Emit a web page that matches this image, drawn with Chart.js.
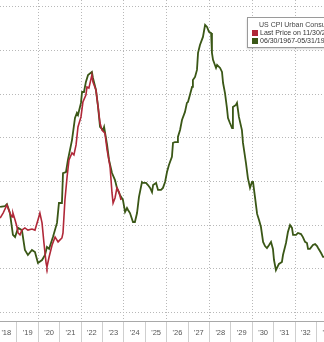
<!DOCTYPE html>
<html>
<head>
<meta charset="utf-8">
<script src="https://cdn.jsdelivr.net/npm/chart.js@4"></script>
<style>
  html, body { margin: 0; padding: 0; background: #fff; }
  #wrap { width: 324px; height: 342px; }
</style>
</head>
<body>
<div id="wrap"><canvas id="myChart"></canvas></div>
<script>
// US CPI YoY (red) vs the 1967-83 path laid over it (green), x in decimal years
const cpiDates = [2018.21, 2018.35, 2018.53, 2018.67, 2018.77, 2018.81, 2018.91, 2019.00, 2019.05, 2019.14,
  2019.23, 2019.37, 2019.51, 2019.70, 2019.84, 2019.98, 2020.07, 2020.17, 2020.26, 2020.36,
  2020.40, 2020.50, 2020.64, 2020.78, 2020.92, 2021.01, 2021.10, 2021.15, 2021.24, 2021.34,
  2021.43, 2021.57, 2021.66, 2021.76, 2021.85, 2021.99, 2022.08, 2022.22, 2022.27, 2022.36,
  2022.50, 2022.55, 2022.69, 2022.79, 2022.88, 2022.97, 2023.11, 2023.21, 2023.35, 2023.44,
  2023.49, 2023.58, 2023.67, 2023.77, 2023.86];
const cpiValues = [2.33, 2.56, 2.93, 2.56, 2.38, 2.56, 2.24, 1.92, 1.65, 1.56,
  1.78, 1.88, 1.78, 1.83, 1.78, 2.24, 2.56, 2.11, 1.19, 0.27,
  0.09, 0.55, 1.10, 1.46, 1.24, 1.33, 1.42, 1.65, 3.16, 4.21,
  4.99, 5.31, 5.22, 5.68, 6.50, 6.96, 7.64, 7.96, 8.33, 8.28,
  8.88, 8.56, 8.19, 7.41, 6.68, 6.36, 6.22, 5.45, 4.67, 3.48,
  3.02, 3.25, 3.71, 3.52, 3.16];

const overlayDates = [2018.21, 2018.44, 2018.53, 2018.67, 2018.81, 2018.91, 2019.05, 2019.23, 2019.37, 2019.51,
  2019.70, 2019.84, 2019.98, 2020.17, 2020.31, 2020.40, 2020.50, 2020.68, 2020.87, 2020.96,
  2021.10, 2021.15, 2021.29, 2021.38, 2021.57, 2021.71, 2021.80, 2021.85, 2021.99, 2022.04,
  2022.13, 2022.22, 2022.32, 2022.50, 2022.55, 2022.69, 2022.79, 2022.88, 2023.02, 2023.07,
  2023.21, 2023.30, 2023.44, 2023.58, 2023.67, 2023.81, 2023.95, 2024.05, 2024.14, 2024.19,
  2024.28, 2024.42, 2024.51, 2024.61, 2024.70, 2024.84, 2024.89, 2025.03, 2025.12, 2025.22,
  2025.31, 2025.36, 2025.50, 2025.59, 2025.73, 2025.82, 2025.92, 2026.01, 2026.10, 2026.24,
  2026.29, 2026.38, 2026.48, 2026.52, 2026.62, 2026.71, 2026.85, 2026.94, 2026.99, 2027.08,
  2027.18, 2027.22, 2027.32, 2027.41, 2027.46, 2027.55, 2027.69, 2027.79, 2027.88, 2027.97,
  2028.07, 2028.11, 2028.16, 2028.30, 2028.35, 2028.49, 2028.58, 2028.63, 2028.72, 2028.81,
  2028.86, 2028.95, 2029.05, 2029.09, 2029.23, 2029.28, 2029.37, 2029.51, 2029.56, 2029.70,
  2029.79, 2029.89, 2029.98, 2030.03, 2030.12, 2030.22, 2030.31, 2030.40, 2030.50, 2030.59,
  2030.68, 2030.78, 2030.87, 2030.96, 2031.01, 2031.10, 2031.15, 2031.24, 2031.38, 2031.43,
  2031.57, 2031.66, 2031.76, 2031.85, 2031.90, 2032.04, 2032.13, 2032.27, 2032.36, 2032.46,
  2032.55, 2032.60, 2032.69, 2032.83, 2032.93, 2033.02, 2033.07, 2033.21, 2033.30, 2033.35];
const overlayValues = [2.84, 2.88, 2.97, 2.56, 1.56, 1.46, 1.88, 1.78, 0.87, 0.64,
  0.87, 0.78, 0.27, 0.41, 0.64, 1.01, 0.92, 1.46, 2.11, 3.02,
  3.02, 4.39, 4.44, 4.99, 5.90, 6.91, 7.14, 7.05, 7.60, 8.10,
  8.10, 8.56, 8.88, 9.02, 8.74, 8.19, 7.41, 6.50, 6.36, 6.50,
  5.68, 4.99, 4.39, 4.07, 3.71, 3.39, 3.16, 2.61, 2.79, 2.70,
  2.56, 2.15, 2.15, 2.56, 3.30, 3.98, 3.94, 3.94, 3.84, 3.71,
  3.52, 3.84, 3.94, 3.62, 3.62, 3.71, 3.98, 4.44, 4.76, 5.13,
  5.77, 5.81, 5.81, 6.04, 6.36, 6.82, 7.19, 7.60, 7.64, 7.96,
  8.33, 8.65, 8.79, 9.11, 9.89, 10.25, 10.62, 11.17, 11.08, 10.85,
  10.80, 9.89, 9.57, 9.20, 9.34, 9.20, 9.02, 8.51, 8.05, 7.37,
  6.91, 6.68, 6.45, 7.41, 7.51, 7.60, 6.96, 6.36, 5.77, 4.85,
  4.16, 3.71, 3.98, 3.98, 3.30, 2.52, 2.24, 1.92, 1.24, 1.05,
  0.96, 1.10, 1.24, 0.92, 0.41, -0.05, 0.05, 0.23, 0.32, 0.64,
  1.19, 1.69, 2.01, 1.88, 1.56, 1.56, 1.65, 1.60, 1.46, 1.24,
  1.19, 0.92, 0.92, 1.10, 1.14, 1.05, 0.96, 0.73, 0.55, 0.55];

// axis labels
const years = [2018, 2019, 2020, 2021, 2022, 2023, 2024, 2025, 2026, 2027, 2028, 2029, 2030, 2031, 2032, 2033];
const yearLabels = ["'18", "'19", "'20", "'21", "'22", "'23", "'24", "'25", "'26", "'27", "'28", "'29", "'30", "'31", "'32", "'33"];
const yGrid = [-2, 0, 2, 4, 6, 8, 10, 12];

const legendTitle = "US CPI Urban Consumers YoY NSA";
const seriesNames = ["Last Price on 11/30/23", "06/30/1967-05/31/1983"];
const RED = "#b02838";
const GREEN = "#3a5716";

const toPoints = (xs, ys) => xs.map((x, i) => ({ x: x, y: ys[i] }));

// legend box hangs off the right edge like the original crop
const legendBox = {
  id: "legendBox",
  afterDraw(chart) {
    const ctx = chart.ctx;
    ctx.save();
    ctx.shadowColor = "rgba(0,0,0,0.18)";
    ctx.shadowOffsetX = -1;
    ctx.shadowOffsetY = 1;
    ctx.shadowBlur = 2;
    ctx.fillStyle = "#fff";
    ctx.fillRect(247.5, 17.5, 100, 30);
    ctx.shadowColor = "transparent";
    ctx.strokeStyle = "#9a9a9a";
    ctx.lineWidth = 1;
    ctx.strokeRect(247.5, 17.5, 100, 30);
    ctx.font = '7px "Liberation Sans", Arial, sans-serif';
    ctx.textBaseline = "middle";
    ctx.fillStyle = "#444";
    ctx.fillText(legendTitle, 259, 25);
    ctx.fillStyle = RED;
    ctx.fillRect(252, 30, 6, 6);
    ctx.fillStyle = GREEN;
    ctx.fillRect(252, 38, 6, 6);
    ctx.fillStyle = "#333";
    ctx.fillText(seriesNames[0], 260, 33.5);
    ctx.fillText(seriesNames[1], 260, 41.5);
    ctx.restore();
  },
};

const ctx = document.getElementById("myChart");
new Chart(ctx, {
  type: "line",
  data: {
    datasets: [
      {
        label: seriesNames[0],
        data: toPoints(cpiDates, cpiValues),
        borderColor: RED,
        borderWidth: 1.6,
        pointRadius: 0,
        tension: 0,
      },
      {
        label: seriesNames[1],
        data: toPoints(overlayDates, overlayValues),
        borderColor: GREEN,
        borderWidth: 1.8,
        pointRadius: 0,
        tension: 0,
      },
    ],
  },
  options: {
    responsive: true,
    maintainAspectRatio: false,
    animation: false,
    layout: { padding: 0 },
    plugins: {
      legend: { display: false },
      tooltip: { enabled: false },
    },
    scales: {
      x: {
        type: "linear",
        min: 2018.206,
        max: 2033.346,
        afterBuildTicks: (scale) => {
          const ticks = [];
          years.forEach((y) => {
            ticks.push({ value: y });
            ticks.push({ value: y + 0.5 });
          });
          scale.ticks = ticks;
        },
        afterFit: (scale) => {
          scale.height = 21;
        },
        ticks: {
          autoSkip: false,
          maxRotation: 0,
          minRotation: 0,
          padding: -14,
          color: "#555",
          font: { family: "'Liberation Sans', Arial, sans-serif", size: 7.5 },
          callback: (value) =>
            Number.isInteger(value) ? "" : yearLabels[Math.floor(value) - 2018],
        },
        grid: {
          drawTicks: true,
          tickLength: 21,
          lineWidth: 1,
          color: (c) =>
            c.tick && Number.isInteger(c.tick.value) && c.tick.value % 2 === 0
              ? "#b8b8b8"
              : "rgba(0,0,0,0)",
          tickColor: (c) =>
            c.tick && Number.isInteger(c.tick.value) ? "#cfcfcf" : "rgba(0,0,0,0)",
        },
        border: { display: true, color: "#a8a8a8", width: 1, dash: [1, 2] },
      },
      y: {
        min: -2.38,
        max: 12.31,
        afterBuildTicks: (scale) => {
          scale.ticks = yGrid.map((v) => ({ value: v }));
        },
        afterFit: (scale) => {
          scale.width = 0;
        },
        ticks: { display: false },
        grid: { drawTicks: false, color: "#b8b8b8", lineWidth: 1 },
        border: { display: false, dash: [1, 2] },
      },
    },
  },
  plugins: [legendBox],
});
</script>
</body>
</html>
